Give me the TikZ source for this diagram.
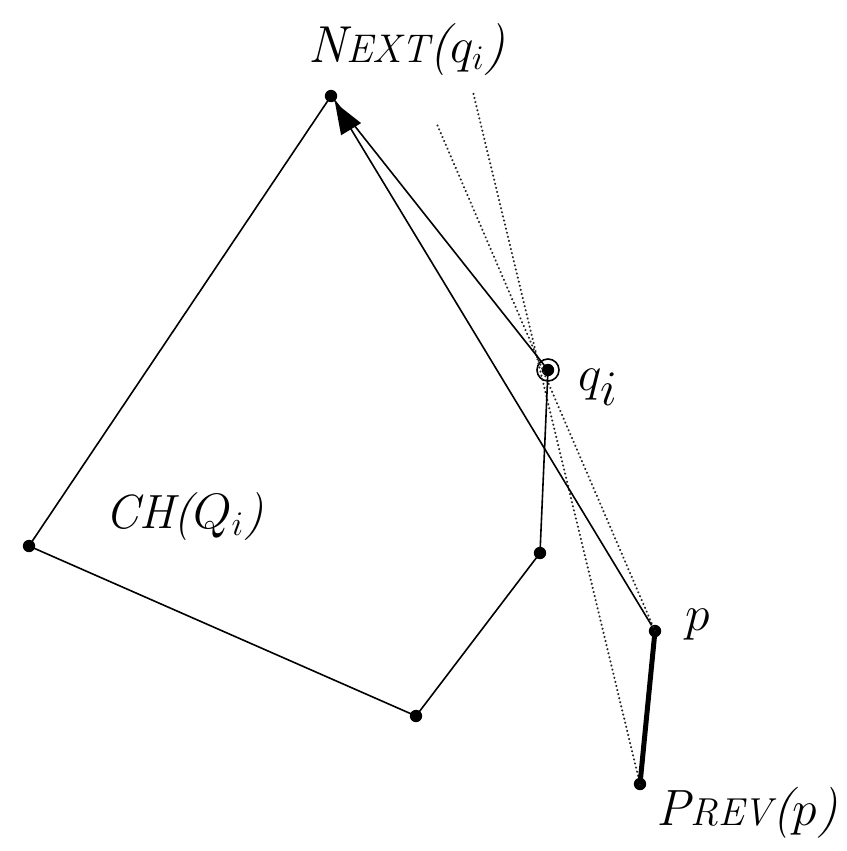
\documentclass[tikz,border=0pt]{standalone}
\usetikzlibrary{arrows.meta}
\begin{document}
\begin{tikzpicture}[x=0.5pt,y=-0.5pt,
  vdot/.style={circle,fill=black,inner sep=0pt,minimum size=6.2pt},
  edge/.style={line width=0.8pt},
  heavy/.style={line width=2.5pt},
  tang/.style={line width=1.1pt,dash pattern=on 0.1pt off 2pt,line cap=round,black!85},
  lbl/.style={inner sep=0pt,anchor=base west}]
\useasboundingbox (0,0) rectangle (846,851);
% vertices
\node[vdot] (n) at (331,96) {};
\node[vdot] (l) at (29,546) {};
\node[vdot] (b) at (416,716) {};
\node[vdot] (r) at (540,553) {};
\node[vdot] (q) at (548,370) {};
\node[circle,draw,line width=0.8pt,inner sep=0pt,minimum size=11pt] (qr) at (q.center) {};
\node[vdot] (p) at (655,631) {};
\node[vdot] (pv) at (640,784) {};
\coordinate (t1) at (473,92);
\coordinate (t2) at (436,122);
% tangent lines
\draw[tang] (pv.center) -- (t1);
\draw[tang] (p.center) -- (t2);
% hull
\draw[edge] (n.center) -- (l.center) -- (b.center) -- (r.center) -- (q.center) -- (n.center);
% arrow
\draw[edge,-{Triangle[length=15.5pt,width=11.5pt]},shorten >=0.6pt] (p) -- (n);
\draw[heavy] (p.center) -- (pv.center);
% labels
\node[lbl] (nl) at (308,62) {\fontsize{26}{28}\selectfont\itshape N{\fontsize{20}{22}\selectfont EXT}($q_i$)};
\node[lbl] (ql) at (578,390) {\fontsize{33}{35}\selectfont $q_i$};
\node[lbl] (pl) at (685,630) {\fontsize{31}{33}\selectfont $p$};
\node[lbl] (chl) at (105,528) {\fontsize{24}{26}\selectfont\itshape CH($Q_i$)};
\node[lbl] (pvl) at (656,825) {\fontsize{25.5}{28}\selectfont\itshape P{\fontsize{19.5}{22}\selectfont REV}($p$)};
\end{tikzpicture}
\end{document}
